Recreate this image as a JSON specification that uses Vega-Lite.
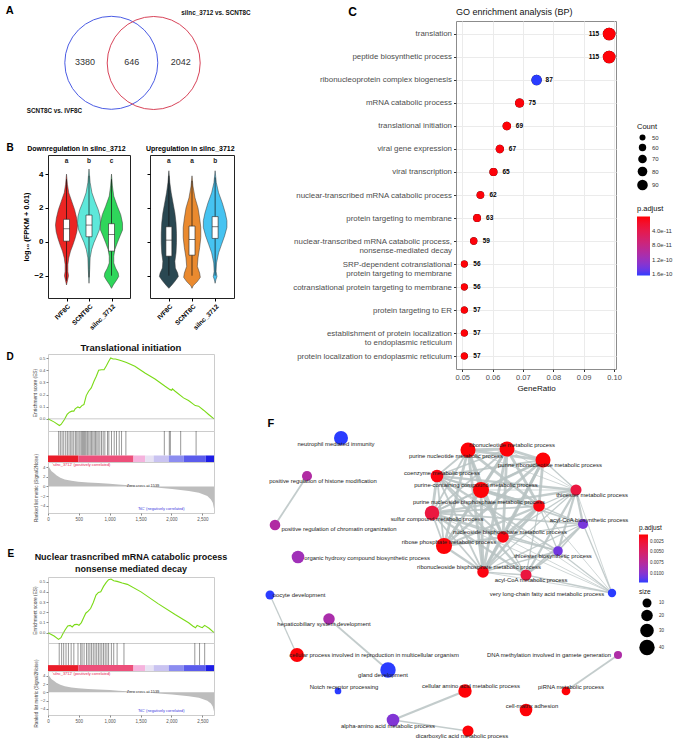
{
  "$schema": "https://vega.github.io/schema/vega-lite/v6.json",
  "background": "white",
  "padding": {"left": 5, "top": 4, "right": 0, "bottom": 0},
  "config": {
    "font": "Liberation Sans",
    "view": {"stroke": null},
    "title": {"font": "Liberation Sans", "color": "#000"},
    "axis": {"labelFont": "Liberation Sans", "titleFont": "Liberation Sans", "labelOverlap": false},
    "legend": {"labelFont": "Liberation Sans", "titleFont": "Liberation Sans", "layout": {"right": {"anchor": "middle", "direction": "vertical", "margin": 6}}},
    "text": {"font": "Liberation Sans"}
  },
  "datasets": {
    "venn": [
      {"set": "SCNT8C vs. IVF8C", "cx": 111.3, "cy": 63.8, "lx": 54.5, "ly": 112},
      {"set": "silnc_3712 vs. SCNT8C", "cx": 153.7, "cy": 64, "lx": 216, "ly": 13.5}
    ],
    "vennCounts": [
      {"n": "3380", "x": 85, "y": 63.3},
      {"n": "646", "x": 131.7, "y": 62.7},
      {"n": "2042", "x": 180.7, "y": 63.3}
    ],
    "vioDown": [
      {"g": "IVF8C", "v": -2.55, "lo": 1, "hi": 1},
      {"g": "IVF8C", "v": -2.25, "lo": 0.95, "hi": 1.05},
      {"g": "IVF8C", "v": -2.0, "lo": 0.91, "hi": 1.09},
      {"g": "IVF8C", "v": -1.75, "lo": 0.94, "hi": 1.06},
      {"g": "IVF8C", "v": -1.35, "lo": 0.94, "hi": 1.06},
      {"g": "IVF8C", "v": -0.95, "lo": 0.9, "hi": 1.1},
      {"g": "IVF8C", "v": -0.55, "lo": 0.82, "hi": 1.18},
      {"g": "IVF8C", "v": -0.2, "lo": 0.72, "hi": 1.28},
      {"g": "IVF8C", "v": 0.2, "lo": 0.62, "hi": 1.38},
      {"g": "IVF8C", "v": 0.6, "lo": 0.54, "hi": 1.46},
      {"g": "IVF8C", "v": 1.0, "lo": 0.51, "hi": 1.49},
      {"g": "IVF8C", "v": 1.4, "lo": 0.55, "hi": 1.45},
      {"g": "IVF8C", "v": 1.9, "lo": 0.64, "hi": 1.36},
      {"g": "IVF8C", "v": 2.4, "lo": 0.77, "hi": 1.23},
      {"g": "IVF8C", "v": 2.9, "lo": 0.9, "hi": 1.1},
      {"g": "IVF8C", "v": 3.4, "lo": 0.96, "hi": 1.04},
      {"g": "IVF8C", "v": 4.0, "lo": 1, "hi": 1},
      {"g": "SCNT8C", "v": -2.45, "lo": 2, "hi": 2},
      {"g": "SCNT8C", "v": -1.65, "lo": 1.97, "hi": 2.03},
      {"g": "SCNT8C", "v": -0.95, "lo": 1.95, "hi": 2.05},
      {"g": "SCNT8C", "v": -0.45, "lo": 1.88, "hi": 2.12},
      {"g": "SCNT8C", "v": -0.05, "lo": 1.78, "hi": 2.22},
      {"g": "SCNT8C", "v": 0.35, "lo": 1.65, "hi": 2.35},
      {"g": "SCNT8C", "v": 0.7, "lo": 1.54, "hi": 2.46},
      {"g": "SCNT8C", "v": 1.1, "lo": 1.49, "hi": 2.51},
      {"g": "SCNT8C", "v": 1.5, "lo": 1.51, "hi": 2.49},
      {"g": "SCNT8C", "v": 1.9, "lo": 1.59, "hi": 2.41},
      {"g": "SCNT8C", "v": 2.4, "lo": 1.74, "hi": 2.26},
      {"g": "SCNT8C", "v": 2.9, "lo": 1.87, "hi": 2.13},
      {"g": "SCNT8C", "v": 3.5, "lo": 1.95, "hi": 2.05},
      {"g": "SCNT8C", "v": 4.3, "lo": 2, "hi": 2},
      {"g": "silnc_3712", "v": -2.75, "lo": 3, "hi": 3},
      {"g": "silnc_3712", "v": -2.55, "lo": 2.92, "hi": 3.08},
      {"g": "silnc_3712", "v": -2.25, "lo": 2.77, "hi": 3.23},
      {"g": "silnc_3712", "v": -2.05, "lo": 2.68, "hi": 3.32},
      {"g": "silnc_3712", "v": -1.85, "lo": 2.7, "hi": 3.3},
      {"g": "silnc_3712", "v": -1.55, "lo": 2.82, "hi": 3.18},
      {"g": "silnc_3712", "v": -1.25, "lo": 2.9, "hi": 3.1},
      {"g": "silnc_3712", "v": -0.85, "lo": 2.9, "hi": 3.1},
      {"g": "silnc_3712", "v": -0.45, "lo": 2.85, "hi": 3.15},
      {"g": "silnc_3712", "v": -0.05, "lo": 2.74, "hi": 3.26},
      {"g": "silnc_3712", "v": 0.35, "lo": 2.62, "hi": 3.38},
      {"g": "silnc_3712", "v": 0.7, "lo": 2.51, "hi": 3.49},
      {"g": "silnc_3712", "v": 1.1, "lo": 2.51, "hi": 3.49},
      {"g": "silnc_3712", "v": 1.6, "lo": 2.59, "hi": 3.41},
      {"g": "silnc_3712", "v": 2.1, "lo": 2.74, "hi": 3.26},
      {"g": "silnc_3712", "v": 2.7, "lo": 2.9, "hi": 3.1},
      {"g": "silnc_3712", "v": 3.3, "lo": 2.96, "hi": 3.04},
      {"g": "silnc_3712", "v": 4.0, "lo": 3, "hi": 3}
    ],
    "vioUp": [
      {"g": "IVF8C", "v": -2.75, "lo": 1, "hi": 1},
      {"g": "IVF8C", "v": -2.55, "lo": 0.87, "hi": 1.13},
      {"g": "IVF8C", "v": -2.3, "lo": 0.72, "hi": 1.28},
      {"g": "IVF8C", "v": -2.05, "lo": 0.59, "hi": 1.41},
      {"g": "IVF8C", "v": -1.85, "lo": 0.62, "hi": 1.38},
      {"g": "IVF8C", "v": -1.55, "lo": 0.72, "hi": 1.28},
      {"g": "IVF8C", "v": -1.15, "lo": 0.74, "hi": 1.26},
      {"g": "IVF8C", "v": -0.65, "lo": 0.69, "hi": 1.31},
      {"g": "IVF8C", "v": -0.05, "lo": 0.67, "hi": 1.33},
      {"g": "IVF8C", "v": 0.5, "lo": 0.67, "hi": 1.33},
      {"g": "IVF8C", "v": 1.1, "lo": 0.69, "hi": 1.31},
      {"g": "IVF8C", "v": 1.7, "lo": 0.74, "hi": 1.26},
      {"g": "IVF8C", "v": 2.3, "lo": 0.82, "hi": 1.18},
      {"g": "IVF8C", "v": 2.9, "lo": 0.9, "hi": 1.1},
      {"g": "IVF8C", "v": 3.5, "lo": 0.96, "hi": 1.04},
      {"g": "IVF8C", "v": 4.2, "lo": 1, "hi": 1},
      {"g": "SCNT8C", "v": -2.75, "lo": 2, "hi": 2},
      {"g": "SCNT8C", "v": -2.6, "lo": 1.95, "hi": 2.05},
      {"g": "SCNT8C", "v": -2.35, "lo": 1.77, "hi": 2.23},
      {"g": "SCNT8C", "v": -2.1, "lo": 1.64, "hi": 2.36},
      {"g": "SCNT8C", "v": -1.85, "lo": 1.67, "hi": 2.33},
      {"g": "SCNT8C", "v": -1.45, "lo": 1.77, "hi": 2.23},
      {"g": "SCNT8C", "v": -0.95, "lo": 1.74, "hi": 2.26},
      {"g": "SCNT8C", "v": -0.35, "lo": 1.67, "hi": 2.33},
      {"g": "SCNT8C", "v": 0.25, "lo": 1.62, "hi": 2.38},
      {"g": "SCNT8C", "v": 0.85, "lo": 1.62, "hi": 2.38},
      {"g": "SCNT8C", "v": 1.4, "lo": 1.67, "hi": 2.33},
      {"g": "SCNT8C", "v": 2.0, "lo": 1.74, "hi": 2.26},
      {"g": "SCNT8C", "v": 2.6, "lo": 1.87, "hi": 2.13},
      {"g": "SCNT8C", "v": 3.3, "lo": 1.96, "hi": 2.04},
      {"g": "SCNT8C", "v": 3.9, "lo": 2, "hi": 2},
      {"g": "silnc_3712", "v": -2.45, "lo": 3, "hi": 3},
      {"g": "silnc_3712", "v": -2.25, "lo": 2.97, "hi": 3.03},
      {"g": "silnc_3712", "v": -2.05, "lo": 2.92, "hi": 3.08},
      {"g": "silnc_3712", "v": -1.75, "lo": 2.96, "hi": 3.04},
      {"g": "silnc_3712", "v": -1.25, "lo": 2.94, "hi": 3.06},
      {"g": "silnc_3712", "v": -0.65, "lo": 2.85, "hi": 3.15},
      {"g": "silnc_3712", "v": -0.15, "lo": 2.72, "hi": 3.28},
      {"g": "silnc_3712", "v": 0.35, "lo": 2.59, "hi": 3.41},
      {"g": "silnc_3712", "v": 0.85, "lo": 2.49, "hi": 3.51},
      {"g": "silnc_3712", "v": 1.25, "lo": 2.49, "hi": 3.51},
      {"g": "silnc_3712", "v": 1.7, "lo": 2.56, "hi": 3.44},
      {"g": "silnc_3712", "v": 2.3, "lo": 2.69, "hi": 3.31},
      {"g": "silnc_3712", "v": 2.9, "lo": 2.85, "hi": 3.15},
      {"g": "silnc_3712", "v": 3.5, "lo": 2.95, "hi": 3.05},
      {"g": "silnc_3712", "v": 4.2, "lo": 3, "hi": 3}
    ],
    "boxDown": [
      {"g": "IVF8C", "pos": 1, "q1": 0.04, "med": 0.77, "q3": 1.33, "wlo": -2.3, "whi": 3.7, "sig": "a"},
      {"g": "SCNT8C", "pos": 2, "q1": 0.3, "med": 0.99, "q3": 1.58, "wlo": -2.1, "whi": 3.9, "sig": "b"},
      {"g": "silnc_3712", "pos": 3, "q1": -0.55, "med": 0.44, "q3": 1.07, "wlo": -2.0, "whi": 3.7, "sig": "c"}
    ],
    "boxUp": [
      {"g": "IVF8C", "pos": 1, "q1": -0.85, "med": 0.1, "q3": 0.89, "wlo": -2.0, "whi": 3.9, "sig": "a"},
      {"g": "SCNT8C", "pos": 2, "q1": -0.79, "med": 0.14, "q3": 0.93, "wlo": -2.0, "whi": 3.6, "sig": "a"},
      {"g": "silnc_3712", "pos": 3, "q1": 0.2, "med": 0.89, "q3": 1.49, "wlo": -2.0, "whi": 3.8, "sig": "b"}
    ],
    "go": [
      {"term": "translation", "ratio": 0.0984, "Count": 115, "padj": 2e-12},
      {"term": "peptide biosynthetic process", "ratio": 0.0984, "Count": 115, "padj": 2e-12},
      {"term": "ribonucleoprotein complex biogenesis", "ratio": 0.0745, "Count": 87, "padj": 1.63e-10},
      {"term": "mRNA catabolic process", "ratio": 0.0689, "Count": 75, "padj": 3e-12},
      {"term": "translational initiation", "ratio": 0.0647, "Count": 69, "padj": 2e-12},
      {"term": "viral gene expression", "ratio": 0.0624, "Count": 67, "padj": 3e-12},
      {"term": "viral transcription", "ratio": 0.0603, "Count": 65, "padj": 3e-12},
      {"term": "nuclear-transcribed mRNA catabolic process", "ratio": 0.056, "Count": 62, "padj": 3e-12},
      {"term": "protein targeting to membrane", "ratio": 0.0549, "Count": 63, "padj": 3e-12},
      {"term": "nuclear-transcribed mRNA catabolic process,|nonsense-mediated decay", "ratio": 0.0538, "Count": 59, "padj": 3e-12},
      {"term": "SRP-dependent cotranslational|protein targeting to membrane", "ratio": 0.0507, "Count": 56, "padj": 2e-12},
      {"term": "cotranslational protein targeting to membrane", "ratio": 0.0507, "Count": 56, "padj": 2e-12},
      {"term": "protein targeting to ER", "ratio": 0.0507, "Count": 57, "padj": 2e-12},
      {"term": "establishment of protein localization|to endoplasmic reticulum", "ratio": 0.0507, "Count": 57, "padj": 2e-12},
      {"term": "protein localization to endoplasmic reticulum", "ratio": 0.0507, "Count": 57, "padj": 2e-12}
    ],
    "esD": [
      {"rank": 0, "es": 0}, {"rank": 103, "es": -0.027}, {"rank": 185, "es": -0.055}, {"rank": 212, "es": -0.046},
      {"rank": 266, "es": -0.005}, {"rank": 310, "es": 0.036}, {"rank": 348, "es": 0.055}, {"rank": 386, "es": 0.063},
      {"rank": 418, "es": 0.063}, {"rank": 440, "es": 0.082}, {"rank": 484, "es": 0.098}, {"rank": 516, "es": 0.09},
      {"rank": 549, "es": 0.109}, {"rank": 582, "es": 0.117}, {"rank": 620, "es": 0.191}, {"rank": 658, "es": 0.227},
      {"rank": 701, "es": 0.254}, {"rank": 745, "es": 0.309}, {"rank": 783, "es": 0.35}, {"rank": 821, "es": 0.399},
      {"rank": 864, "es": 0.404}, {"rank": 908, "es": 0.404}, {"rank": 946, "es": 0.437}, {"rank": 984, "es": 0.473},
      {"rank": 1016, "es": 0.5}, {"rank": 1054, "es": 0.492}, {"rank": 1092, "es": 0.492}, {"rank": 1136, "es": 0.486},
      {"rank": 1190, "es": 0.478}, {"rank": 1272, "es": 0.464}, {"rank": 1408, "es": 0.432}, {"rank": 1571, "es": 0.377},
      {"rank": 1734, "es": 0.328}, {"rank": 1897, "es": 0.268}, {"rank": 1978, "es": 0.24}, {"rank": 2005, "es": 0.235},
      {"rank": 2016, "es": 0.246}, {"rank": 2060, "es": 0.227}, {"rank": 2196, "es": 0.172}, {"rank": 2277, "es": 0.15},
      {"rank": 2386, "es": 0.109}, {"rank": 2440, "es": 0.104}, {"rank": 2522, "es": 0.071}, {"rank": 2603, "es": 0.036},
      {"rank": 2690, "es": 0}
    ],
    "esE": [
      {"rank": 0, "es": 0}, {"rank": 99, "es": -0.033}, {"rank": 171, "es": -0.066}, {"rank": 210, "es": -0.049},
      {"rank": 237, "es": -0.016}, {"rank": 276, "es": 0.026}, {"rank": 320, "es": 0.066}, {"rank": 359, "es": 0.072},
      {"rank": 392, "es": 0.056}, {"rank": 430, "es": 0.079}, {"rank": 469, "es": 0.082}, {"rank": 502, "es": 0.072},
      {"rank": 541, "es": 0.099}, {"rank": 579, "es": 0.148}, {"rank": 612, "es": 0.191}, {"rank": 651, "es": 0.211},
      {"rank": 690, "es": 0.237}, {"rank": 734, "es": 0.296}, {"rank": 778, "es": 0.368}, {"rank": 817, "es": 0.395},
      {"rank": 855, "es": 0.401}, {"rank": 900, "es": 0.454}, {"rank": 944, "es": 0.493}, {"rank": 982, "es": 0.52},
      {"rank": 1021, "es": 0.526}, {"rank": 1065, "es": 0.51}, {"rank": 1120, "es": 0.503}, {"rank": 1203, "es": 0.487},
      {"rank": 1286, "es": 0.474}, {"rank": 1507, "es": 0.4}, {"rank": 1783, "es": 0.285}, {"rank": 2059, "es": 0.178},
      {"rank": 2279, "es": 0.098}, {"rank": 2345, "es": 0.066}, {"rank": 2390, "es": 0.049}, {"rank": 2417, "es": 0.072},
      {"rank": 2472, "es": 0.056}, {"rank": 2500, "es": 0.049}, {"rank": 2538, "es": 0.072}, {"rank": 2610, "es": 0.043},
      {"rank": 2690, "es": 0}
    ],
    "hitsD": [
      {"rank": 173}, {"rank": 200}, {"rank": 228}, {"rank": 255}, {"rank": 287}, {"rank": 314}, {"rank": 341}, {"rank": 368},
      {"rank": 390}, {"rank": 417}, {"rank": 444}, {"rank": 466}, {"rank": 488}, {"rank": 515}, {"rank": 536}, {"rank": 553},
      {"rank": 569}, {"rank": 585}, {"rank": 601}, {"rank": 618}, {"rank": 639}, {"rank": 661}, {"rank": 683}, {"rank": 704},
      {"rank": 726}, {"rank": 748}, {"rank": 769}, {"rank": 791}, {"rank": 813}, {"rank": 840}, {"rank": 867}, {"rank": 894},
      {"rank": 921}, {"rank": 964}, {"rank": 986}, {"rank": 1029}, {"rank": 1073}, {"rank": 1110}, {"rank": 1154}, {"rank": 1192},
      {"rank": 1262}, {"rank": 1885}, {"rank": 1966}, {"rank": 1983}, {"rank": 2150}, {"rank": 2400}
    ],
    "hitsE": [
      {"rank": 182}, {"rank": 221}, {"rank": 254}, {"rank": 292}, {"rank": 331}, {"rank": 375}, {"rank": 419}, {"rank": 486},
      {"rank": 530}, {"rank": 552}, {"rank": 585}, {"rank": 624}, {"rank": 651}, {"rank": 679}, {"rank": 706}, {"rank": 734},
      {"rank": 762}, {"rank": 789}, {"rank": 817}, {"rank": 844}, {"rank": 872}, {"rank": 900}, {"rank": 927}, {"rank": 955},
      {"rank": 982}, {"rank": 1027}, {"rank": 1065}, {"rank": 1120}, {"rank": 1231}, {"rank": 2379}, {"rank": 2456}, {"rank": 2539}
    ],
    "bar": [
      {"s": "s1", "x0": 0, "x1": 490}, {"s": "s2", "x0": 490, "x1": 1385}, {"s": "s3", "x0": 1385, "x1": 1575},
      {"s": "s4", "x0": 1575, "x1": 1712}, {"s": "s5", "x0": 1712, "x1": 1957}, {"s": "s6", "x0": 1957, "x1": 2201},
      {"s": "s7", "x0": 2201, "x1": 2554}, {"s": "s8", "x0": 2554, "x1": 2690}
    ],
    "metric": [
      {"rank": 0, "m": 4.3}, {"rank": 20, "m": 3.9}, {"rank": 54, "m": 3.2}, {"rank": 100, "m": 2.7}, {"rank": 136, "m": 2.3},
      {"rank": 200, "m": 1.8}, {"rank": 272, "m": 1.45}, {"rank": 380, "m": 1.15}, {"rank": 490, "m": 0.97}, {"rank": 650, "m": 0.82},
      {"rank": 815, "m": 0.69}, {"rank": 1000, "m": 0.55}, {"rank": 1141, "m": 0.41}, {"rank": 1359, "m": 0.2}, {"rank": 1539, "m": 0},
      {"rank": 1793, "m": -0.28}, {"rank": 2011, "m": -0.55}, {"rank": 2283, "m": -0.97}, {"rank": 2446, "m": -1.3},
      {"rank": 2582, "m": -2.0}, {"rank": 2640, "m": -2.7}, {"rank": 2670, "m": -3.4}, {"rank": 2690, "m": -4.6}
    ],
    "gseaText": [
      {"t": "Zero cross at 1539", "x": 1540, "y": 0.15, "k": "zero"},
      {"t": "'silnc_3712' (positively correlated)", "x": 540, "y": 4.5, "k": "pos"},
      {"t": "'NC' (negatively correlated)", "x": 1835, "y": -4.6, "k": "neg"}
    ],
    "nodes": [
      {"id": "n1", "label": "neutrophil mediated immunity", "x": 342, "y": 435, "lx": 337, "ly": 441, "p": 0.0121, "n": 32},
      {"id": "n2", "label": "positive regulation of histone modification", "x": 308, "y": 473, "lx": 324, "ly": 478, "p": 0.0078, "n": 14},
      {"id": "n3", "label": "positive regulation of chromatin organization", "x": 276, "y": 522, "lx": 340, "ly": 526, "p": 0.0078, "n": 16},
      {"id": "n4", "label": "organic hydroxy compound biosynthetic process", "x": 299, "y": 554, "lx": 368, "ly": 555, "p": 0.0088, "n": 25},
      {"id": "rn", "label": "ribonucleotide metabolic process", "x": 508, "y": 446, "lx": 513, "ly": 442, "p": 0.001, "n": 38},
      {"id": "pn", "label": "purine nucleotide metabolic process", "x": 469, "y": 447, "lx": 457, "ly": 453, "p": 0.001, "n": 38},
      {"id": "pr", "label": "purine ribonucleotide metabolic process", "x": 544, "y": 457, "lx": 551, "ly": 462, "p": 0.001, "n": 38},
      {"id": "co", "label": "coenzyme metabolic process", "x": 438, "y": 473, "lx": 443, "ly": 470, "p": 0.0012, "n": 25},
      {"id": "pc", "label": "purine-containing compound metabolic process", "x": 482, "y": 487, "lx": 477, "ly": 482, "p": 0.001, "n": 44},
      {"id": "tm", "label": "thioester metabolic process", "x": 577, "y": 487, "lx": 593, "ly": 492, "p": 0.003, "n": 18},
      {"id": "pb", "label": "purine nucleoside bisphosphate metabolic process", "x": 540, "y": 503, "lx": 480, "ly": 499, "p": 0.0012, "n": 20},
      {"id": "sc", "label": "sulfur compound metabolic process", "x": 433, "y": 510, "lx": 438, "ly": 516, "p": 0.003, "n": 35},
      {"id": "ab", "label": "acyl-CoA biosynthetic process", "x": 584, "y": 521, "lx": 590, "ly": 517, "p": 0.0105, "n": 14},
      {"id": "nb", "label": "nucleoside bisphosphate metabolic process", "x": 504, "y": 534, "lx": 511, "ly": 529, "p": 0.0012, "n": 20},
      {"id": "rp", "label": "ribose phosphate metabolic process", "x": 445, "y": 543, "lx": 450, "ly": 539, "p": 0.001, "n": 44},
      {"id": "tb", "label": "thioester biosynthetic process", "x": 559, "y": 548, "lx": 554, "ly": 553, "p": 0.0107, "n": 12},
      {"id": "rb", "label": "ribonucleoside bisphosphate metabolic process", "x": 484, "y": 569, "lx": 480, "ly": 564, "p": 0.0012, "n": 20},
      {"id": "am", "label": "acyl-CoA metabolic process", "x": 527, "y": 572, "lx": 532, "ly": 577, "p": 0.003, "n": 18},
      {"id": "vl", "label": "very long-chain fatty acid metabolic process", "x": 613, "y": 590, "lx": 548, "ly": 591, "p": 0.0121, "n": 8},
      {"id": "od", "label": "oocyte development", "x": 271, "y": 592, "lx": 300, "ly": 592, "p": 0.0121, "n": 10},
      {"id": "hs", "label": "hepaticobiliary system development", "x": 330, "y": 616, "lx": 325, "ly": 621, "p": 0.0082, "n": 20},
      {"id": "cp", "label": "cellular process involved in reproduction in multicellular organism", "x": 298, "y": 652, "lx": 375, "ly": 652, "p": 0.001, "n": 32},
      {"id": "gd", "label": "gland development", "x": 389, "y": 667, "lx": 384, "ly": 672, "p": 0.0121, "n": 40},
      {"id": "dm", "label": "DNA methylation involved in gamete generation", "x": 619, "y": 652, "lx": 550, "ly": 652, "p": 0.008, "n": 7},
      {"id": "nr", "label": "Notch receptor processing", "x": 339, "y": 688, "lx": 345, "ly": 684, "p": 0.0121, "n": 3},
      {"id": "ca", "label": "cellular amino acid metabolic process", "x": 466, "y": 688, "lx": 472, "ly": 683, "p": 0.001, "n": 29},
      {"id": "pi", "label": "piRNA metabolic process", "x": 567, "y": 688, "lx": 572, "ly": 684, "p": 0.001, "n": 9},
      {"id": "cm", "label": "cell-matrix adhesion", "x": 527, "y": 707, "lx": 533, "ly": 703, "p": 0.001, "n": 25},
      {"id": "aa", "label": "alpha-amino acid metabolic process", "x": 394, "y": 717, "lx": 389, "ly": 723, "p": 0.0102, "n": 25},
      {"id": "dc", "label": "dicarboxylic acid metabolic process", "x": 469, "y": 728, "lx": 463, "ly": 733, "p": 0.001, "n": 18}
    ],
    "edges": [
      {"s": "rn", "t": "pn", "w": 3}, {"s": "rn", "t": "pr", "w": 3}, {"s": "rn", "t": "pc", "w": 3}, {"s": "rn", "t": "pb", "w": 3},
      {"s": "rn", "t": "nb", "w": 3}, {"s": "rn", "t": "rp", "w": 3}, {"s": "rn", "t": "rb", "w": 3},
      {"s": "pn", "t": "pr", "w": 3}, {"s": "pn", "t": "pc", "w": 3}, {"s": "pn", "t": "pb", "w": 3}, {"s": "pn", "t": "nb", "w": 3},
      {"s": "pn", "t": "rp", "w": 3}, {"s": "pn", "t": "rb", "w": 3},
      {"s": "pr", "t": "pc", "w": 3}, {"s": "pr", "t": "pb", "w": 3}, {"s": "pr", "t": "nb", "w": 3}, {"s": "pr", "t": "rp", "w": 3},
      {"s": "pr", "t": "rb", "w": 3},
      {"s": "pc", "t": "pb", "w": 3}, {"s": "pc", "t": "nb", "w": 3}, {"s": "pc", "t": "rp", "w": 3}, {"s": "pc", "t": "rb", "w": 3},
      {"s": "pb", "t": "nb", "w": 3}, {"s": "pb", "t": "rp", "w": 2.5}, {"s": "pb", "t": "rb", "w": 3},
      {"s": "nb", "t": "rp", "w": 2.5}, {"s": "nb", "t": "rb", "w": 3}, {"s": "rp", "t": "rb", "w": 2.5},
      {"s": "co", "t": "rn", "w": 2}, {"s": "co", "t": "pn", "w": 2}, {"s": "co", "t": "pr", "w": 2}, {"s": "co", "t": "pc", "w": 2},
      {"s": "co", "t": "pb", "w": 2}, {"s": "co", "t": "nb", "w": 2}, {"s": "co", "t": "rp", "w": 2}, {"s": "co", "t": "rb", "w": 2},
      {"s": "sc", "t": "rn", "w": 2}, {"s": "sc", "t": "pn", "w": 2}, {"s": "sc", "t": "pr", "w": 2}, {"s": "sc", "t": "pc", "w": 2},
      {"s": "sc", "t": "pb", "w": 2}, {"s": "sc", "t": "nb", "w": 2}, {"s": "sc", "t": "rp", "w": 2}, {"s": "sc", "t": "rb", "w": 2},
      {"s": "co", "t": "sc", "w": 3},
      {"s": "tm", "t": "co", "w": 2.5}, {"s": "tm", "t": "sc", "w": 2.5}, {"s": "tm", "t": "ab", "w": 2.5}, {"s": "tm", "t": "tb", "w": 2.5},
      {"s": "tm", "t": "am", "w": 2.5},
      {"s": "ab", "t": "co", "w": 2}, {"s": "ab", "t": "sc", "w": 2}, {"s": "ab", "t": "tb", "w": 2}, {"s": "ab", "t": "am", "w": 2},
      {"s": "tb", "t": "co", "w": 2}, {"s": "tb", "t": "sc", "w": 2}, {"s": "tb", "t": "am", "w": 2},
      {"s": "am", "t": "co", "w": 2.5}, {"s": "am", "t": "sc", "w": 2.5},
      {"s": "pb", "t": "tm", "w": 1.5}, {"s": "pb", "t": "ab", "w": 1.5}, {"s": "pb", "t": "tb", "w": 1.5}, {"s": "pb", "t": "am", "w": 1.5},
      {"s": "nb", "t": "tm", "w": 1.5}, {"s": "nb", "t": "ab", "w": 1.5}, {"s": "nb", "t": "tb", "w": 1.5}, {"s": "nb", "t": "am", "w": 1.5},
      {"s": "rb", "t": "tm", "w": 1.5}, {"s": "rb", "t": "ab", "w": 1.5}, {"s": "rb", "t": "tb", "w": 1.5}, {"s": "rb", "t": "am", "w": 1.5},
      {"s": "tm", "t": "rn", "w": 1}, {"s": "tm", "t": "pn", "w": 1}, {"s": "tm", "t": "pr", "w": 1.5}, {"s": "tm", "t": "pc", "w": 1},
      {"s": "vl", "t": "tm", "w": 1}, {"s": "vl", "t": "ab", "w": 1.5}, {"s": "vl", "t": "tb", "w": 1.5}, {"s": "vl", "t": "am", "w": 1.5},
      {"s": "vl", "t": "co", "w": 1}, {"s": "vl", "t": "sc", "w": 1}, {"s": "vl", "t": "pb", "w": 1}, {"s": "vl", "t": "nb", "w": 1},
      {"s": "vl", "t": "rb", "w": 1},
      {"s": "n2", "t": "n3", "w": 2}, {"s": "od", "t": "cp", "w": 1.5}, {"s": "hs", "t": "gd", "w": 2}, {"s": "dm", "t": "pi", "w": 2},
      {"s": "ca", "t": "aa", "w": 2.5}, {"s": "aa", "t": "dc", "w": 1.5}
    ]
  },
  "resolve": {"scale": {"color": "independent", "size": "independent", "strokeWidth": "independent"}},
  "hconcat": [
    {
      "resolve": {"scale": {"color": "independent", "size": "independent", "strokeWidth": "independent"}},
      "vconcat": [
        {
          "resolve": {"scale": {"color": "independent", "size": "independent"}},
          "vconcat": [
            {
              "width": 205, "height": 103,
              "view": {"stroke": null},
              "title": {"text": "A", "anchor": "start", "frame": "bounds", "fontSize": 11, "fontWeight": "bold", "dx": -21, "dy": 6, "offset": 0},
              "layer": [
                {
                  "data": {"name": "venn"},
                  "mark": {"type": "point", "shape": "circle", "filled": false, "size": 8650, "strokeWidth": 1, "opacity": 1},
                  "encoding": {
                    "x": {"field": "cx", "type": "quantitative", "scale": {"domain": [48, 253], "nice": false, "zero": false}, "axis": null},
                    "y": {"field": "cy", "type": "quantitative", "scale": {"domain": [22, 125], "nice": false, "zero": false, "reverse": true}, "axis": null},
                    "color": {"field": "set", "type": "nominal", "scale": {"domain": ["SCNT8C vs. IVF8C", "silnc_3712 vs. SCNT8C"], "range": ["#4b5ce4", "#d8455a"]}, "legend": null}
                  }
                },
                {
                  "data": {"name": "vennCounts"},
                  "mark": {"type": "text", "fontSize": 9, "color": "#333"},
                  "encoding": {
                    "x": {"field": "x", "type": "quantitative"},
                    "y": {"field": "y", "type": "quantitative"},
                    "text": {"field": "n"}
                  }
                },
                {
                  "data": {"name": "venn"},
                  "mark": {"type": "text", "fontSize": 6.3, "fontWeight": "bold", "color": "#111"},
                  "encoding": {
                    "x": {"field": "lx", "type": "quantitative"},
                    "y": {"field": "ly", "type": "quantitative"},
                    "text": {"field": "set"}
                  }
                }
              ]
            },
            {
              "resolve": {"scale": {"color": "independent"}},
              "hconcat": [
                {
                  "width": 82, "height": 143,
                  "view": {"stroke": "#222", "strokeWidth": 1},
                  "title": {"text": "Downregulation  in silnc_3712", "fontSize": 7, "fontWeight": "bold", "anchor": "middle", "frame": "bounds", "offset": 3},
                  "layer": [
                    {
                      "data": {"name": "vioDown"},
                      "mark": {"type": "area", "orient": "horizontal", "stroke": "#333", "strokeWidth": 0.5, "opacity": 1},
                      "encoding": {
                        "y": {"field": "v", "type": "quantitative", "scale": {"domain": [-3.32, 5.13], "nice": false, "zero": false},
                              "axis": {"values": [-2, 0, 2, 4], "tickCount": 10, "title": "log₁₀ (FPKM + 0.01)", "titleFontSize": 7.5, "titleFontWeight": "bold", "titleColor": "#000", "labelFontSize": 8, "labelFontWeight": "bold", "labelColor": "#000", "tickColor": "#000", "tickSize": 3, "domain": false, "grid": false, "labelPadding": 2, "titlePadding": 3}},
                        "x": {"field": "lo", "type": "quantitative", "scale": {"domain": [0.4, 3.6], "nice": false, "zero": false},
                              "axis": {"values": [1, 2, 3], "tickCount": 10, "labelExpr": "datum.value == 1 ? 'IVF8C' : datum.value == 2 ? 'SCNT8C' : 'silnc_3712'", "labelAngle": -45, "labelOverlap": false, "labelFontSize": 6.5, "labelFontWeight": "bold", "labelColor": "#000", "tickColor": "#000", "tickSize": 3, "domain": false, "grid": false, "title": null}},
                        "x2": {"field": "hi"},
                        "color": {"field": "g", "type": "nominal", "scale": {"domain": ["IVF8C", "SCNT8C", "silnc_3712"], "range": ["#ec2523", "#5ee8da", "#2fd65b"]}, "legend": null}
                      }
                    },
                    {
                      "data": {"name": "boxDown"},
                      "mark": {"type": "rule", "color": "#111", "strokeWidth": 0.7},
                      "encoding": {"x": {"field": "pos", "type": "quantitative"}, "y": {"field": "wlo", "type": "quantitative"}, "y2": {"field": "whi"}}
                    },
                    {
                      "data": {"name": "boxDown"},
                      "mark": {"type": "bar", "orient": "vertical", "size": 6, "fill": "white", "stroke": "#222", "strokeWidth": 0.6},
                      "encoding": {"x": {"field": "pos", "type": "quantitative"}, "y": {"field": "q1", "type": "quantitative"}, "y2": {"field": "q3"}}
                    },
                    {
                      "data": {"name": "boxDown"},
                      "mark": {"type": "tick", "orient": "horizontal", "size": 6, "thickness": 0.8, "color": "#111"},
                      "encoding": {"x": {"field": "pos", "type": "quantitative"}, "y": {"field": "med", "type": "quantitative"}}
                    },
                    {
                      "data": {"name": "boxDown"},
                      "mark": {"type": "text", "fontSize": 6.5, "fontWeight": "bold", "color": "#222"},
                      "encoding": {"x": {"field": "pos", "type": "quantitative"}, "y": {"datum": 4.75, "type": "quantitative"}, "text": {"field": "sig"}}
                    }
                  ]
                },
                {
                  "width": 84, "height": 143,
                  "view": {"stroke": "#222", "strokeWidth": 1},
                  "title": {"text": "Upregulation  in silnc_3712", "fontSize": 7, "fontWeight": "bold", "anchor": "middle", "frame": "bounds", "offset": 3},
                  "layer": [
                    {
                      "data": {"name": "vioUp"},
                      "mark": {"type": "area", "orient": "horizontal", "stroke": "#333", "strokeWidth": 0.5, "opacity": 1},
                      "encoding": {
                        "y": {"field": "v", "type": "quantitative", "scale": {"domain": [-3.32, 5.13], "nice": false, "zero": false},
                              "axis": {"values": [-2, 0, 2, 4], "tickCount": 10, "title": null, "labels": false, "tickColor": "#000", "tickSize": 3, "domain": false, "grid": false}},
                        "x": {"field": "lo", "type": "quantitative", "scale": {"domain": [0.4, 3.6], "nice": false, "zero": false},
                              "axis": {"values": [1, 2, 3], "tickCount": 10, "labelExpr": "datum.value == 1 ? 'IVF8C' : datum.value == 2 ? 'SCNT8C' : 'silnc_3712'", "labelAngle": -45, "labelOverlap": false, "labelFontSize": 6.5, "labelFontWeight": "bold", "labelColor": "#000", "tickColor": "#000", "tickSize": 3, "domain": false, "grid": false, "title": null}},
                        "x2": {"field": "hi"},
                        "color": {"field": "g", "type": "nominal", "scale": {"domain": ["IVF8C", "SCNT8C", "silnc_3712"], "range": ["#2a4852", "#ea8a2f", "#46c3f1"]}, "legend": null}
                      }
                    },
                    {
                      "data": {"name": "boxUp"},
                      "mark": {"type": "rule", "color": "#111", "strokeWidth": 0.7},
                      "encoding": {"x": {"field": "pos", "type": "quantitative"}, "y": {"field": "wlo", "type": "quantitative"}, "y2": {"field": "whi"}}
                    },
                    {
                      "data": {"name": "boxUp"},
                      "mark": {"type": "bar", "orient": "vertical", "size": 6, "fill": "white", "stroke": "#222", "strokeWidth": 0.6},
                      "encoding": {"x": {"field": "pos", "type": "quantitative"}, "y": {"field": "q1", "type": "quantitative"}, "y2": {"field": "q3"}}
                    },
                    {
                      "data": {"name": "boxUp"},
                      "mark": {"type": "tick", "orient": "horizontal", "size": 6, "thickness": 0.8, "color": "#111"},
                      "encoding": {"x": {"field": "pos", "type": "quantitative"}, "y": {"field": "med", "type": "quantitative"}}
                    },
                    {
                      "data": {"name": "boxUp"},
                      "mark": {"type": "text", "fontSize": 6.5, "fontWeight": "bold", "color": "#222"},
                      "encoding": {"x": {"field": "pos", "type": "quantitative"}, "y": {"datum": 4.75, "type": "quantitative"}, "text": {"field": "sig"}}
                    }
                  ]
                }
              ],
              "spacing": 13,
              "title": {"text": "B", "anchor": "start", "frame": "bounds", "fontSize": 10, "fontWeight": "bold", "dx": -16, "dy": 8, "offset": 0}
            }
          ],
          "spacing": 18
        },
        {
          "resolve": {"scale": {"color": "independent"}},
          "vconcat": [
            {
              "resolve": {"scale": {"color": "independent"}},
              "vconcat": [
                {
                  "width": 166, "height": 77,
                  "view": {"stroke": "#cccccc"},
                  "title": {"text": "Translational initiation", "fontSize": 9.5, "fontWeight": "bold", "anchor": "middle", "frame": "group", "offset": 2, "color": "#111"},
                  "layer": [
                    {
                      "data": {"name": "esD"},
                      "mark": {"type": "line", "color": "#7ada16", "strokeWidth": 1.1},
                      "encoding": {
                        "x": {"field": "rank", "type": "quantitative", "scale": {"domain": [0, 2690], "nice": false, "zero": false}, "axis": null},
                        "y": {"field": "es", "type": "quantitative", "scale": {"domain": [-0.1, 0.533], "nice": false, "zero": false},
                              "axis": {"values": [0, 0.1, 0.2, 0.3, 0.4, 0.5], "tickCount": 12, "labelExpr": "format(datum.value, '.1f')", "title": "Enrichment score (ES)", "titleFontSize": 4.8, "titleFontWeight": "normal", "titleColor": "#444", "labelFontSize": 4.3, "labelColor": "#555", "labelOverlap": false, "tickSize": 2, "tickColor": "#888", "domain": false, "grid": false, "labelPadding": 1, "titlePadding": 2}}
                      }
                    },
                    {
                      "data": {"values": [{}]},
                      "mark": {"type": "rule", "color": "#aaaaaa", "strokeWidth": 0.6},
                      "encoding": {"y": {"datum": 0, "type": "quantitative"}}
                    }
                  ]
                },
                {
                  "width": 166, "height": 31,
                  "view": {"stroke": "#cccccc"},
                  "layer": [
                    {
                      "data": {"name": "hitsD"},
                      "mark": {"type": "rule", "color": "#1a1a1a", "strokeWidth": 0.6, "opacity": 0.75},
                      "encoding": {
                        "x": {"field": "rank", "type": "quantitative", "scale": {"domain": [0, 2690], "nice": false, "zero": false}, "axis": null},
                        "y": {"datum": 0.21, "type": "quantitative", "scale": {"domain": [0, 1], "nice": false, "zero": false}, "axis": null},
                        "y2": {"datum": 1}
                      }
                    },
                    {
                      "data": {"name": "bar"},
                      "mark": {"type": "rect"},
                      "encoding": {
                        "x": {"field": "x0", "type": "quantitative"},
                        "x2": {"field": "x1"},
                        "y": {"datum": 0, "type": "quantitative"},
                        "y2": {"datum": 0.21},
                        "color": {"field": "s", "type": "nominal", "scale": {"domain": ["s1", "s2", "s3", "s4", "s5", "s6", "s7", "s8"], "range": ["#ea1d2a", "#ed4f7a", "#f5b3dd", "#e7e2f3", "#c9c3f1", "#8c8df0", "#5b5cec", "#1d1de6"]}, "legend": null}
                      }
                    }
                  ]
                },
                {
                  "width": 166, "height": 51,
                  "view": {"stroke": "#cccccc"},
                  "layer": [
                    {
                      "data": {"name": "metric"},
                      "mark": {"type": "area", "color": "#bdbdbd"},
                      "encoding": {
                        "x": {"field": "rank", "type": "quantitative", "scale": {"domain": [0, 2690], "nice": false, "zero": false},
                              "axis": {"values": [0, 500, 1000, 1500, 2000, 2500], "tickCount": 12, "labelExpr": "format(datum.value, ',')", "labelFontSize": 4.5, "labelColor": "#555", "labelOverlap": false, "labelFlush": false, "tickSize": 2, "tickColor": "#888", "domain": false, "grid": false, "title": null, "labelPadding": 1}},
                        "y": {"field": "m", "type": "quantitative", "scale": {"domain": [-5.5, 5.05], "nice": false, "zero": false},
                              "axis": {"values": [-4, -2, 0, 2, 4], "tickCount": 12, "labelExpr": "format(datum.value, 'd')", "title": "Ranked list metric (Signal2Noise)", "titleFontSize": 4.6, "titleFontWeight": "normal", "titleColor": "#444", "labelFontSize": 4.3, "labelColor": "#555", "labelOverlap": false, "tickSize": 2, "tickColor": "#888", "domain": false, "grid": false, "labelPadding": 1, "titlePadding": 2}},
                        "y2": {"datum": 0}
                      }
                    },
                    {
                      "data": {"name": "gseaText"},
                      "mark": {"type": "text", "fontSize": 3.9},
                      "encoding": {
                        "x": {"field": "x", "type": "quantitative"},
                        "y": {"field": "y", "type": "quantitative"},
                        "text": {"field": "t"},
                        "color": {"field": "k", "type": "nominal", "scale": {"domain": ["pos", "neg", "zero"], "range": ["#e8204a", "#3a3ae0", "#333333"]}, "legend": null}
                      }
                    }
                  ]
                }
              ],
              "spacing": 0,
              "bounds": "flush",
              "title": {"text": "D", "anchor": "start", "frame": "bounds", "fontSize": 10, "fontWeight": "bold", "dx": -25, "dy": 20, "offset": 0}
            },
            {
              "resolve": {"scale": {"color": "independent"}},
              "vconcat": [
                {
                  "width": 166, "height": 66,
                  "view": {"stroke": "#cccccc"},
                  "title": {"text": ["Nuclear trasncribed mRNA catabolic process", "nonsense mediated decay"], "fontSize": 9, "fontWeight": "bold", "anchor": "middle", "frame": "group", "offset": 3, "lineHeight": 12, "color": "#111"},
                  "layer": [
                    {
                      "data": {"name": "esE"},
                      "mark": {"type": "line", "color": "#7ada16", "strokeWidth": 1.1},
                      "encoding": {
                        "x": {"field": "rank", "type": "quantitative", "scale": {"domain": [0, 2690], "nice": false, "zero": false}, "axis": null},
                        "y": {"field": "es", "type": "quantitative", "scale": {"domain": [-0.101, 0.546], "nice": false, "zero": false},
                              "axis": {"values": [0, 0.1, 0.2, 0.3, 0.4, 0.5], "tickCount": 12, "labelExpr": "format(datum.value, '.1f')", "title": "Enrichment score (ES)", "titleFontSize": 4.8, "titleFontWeight": "normal", "titleColor": "#444", "labelFontSize": 4.3, "labelColor": "#555", "labelOverlap": false, "tickSize": 2, "tickColor": "#888", "domain": false, "grid": false, "labelPadding": 1, "titlePadding": 2}}
                      }
                    },
                    {
                      "data": {"values": [{}]},
                      "mark": {"type": "rule", "color": "#aaaaaa", "strokeWidth": 0.6},
                      "encoding": {"y": {"datum": 0, "type": "quantitative"}}
                    }
                  ]
                },
                {
                  "width": 166, "height": 28,
                  "view": {"stroke": "#cccccc"},
                  "layer": [
                    {
                      "data": {"name": "hitsE"},
                      "mark": {"type": "rule", "color": "#1a1a1a", "strokeWidth": 0.6, "opacity": 0.75},
                      "encoding": {
                        "x": {"field": "rank", "type": "quantitative", "scale": {"domain": [0, 2690], "nice": false, "zero": false}, "axis": null},
                        "y": {"datum": 0.21, "type": "quantitative", "scale": {"domain": [0, 1], "nice": false, "zero": false}, "axis": null},
                        "y2": {"datum": 1}
                      }
                    },
                    {
                      "data": {"name": "bar"},
                      "mark": {"type": "rect"},
                      "encoding": {
                        "x": {"field": "x0", "type": "quantitative"},
                        "x2": {"field": "x1"},
                        "y": {"datum": 0, "type": "quantitative"},
                        "y2": {"datum": 0.21},
                        "color": {"field": "s", "type": "nominal", "scale": {"domain": ["s1", "s2", "s3", "s4", "s5", "s6", "s7", "s8"], "range": ["#ea1d2a", "#ed4f7a", "#f5b3dd", "#e7e2f3", "#c9c3f1", "#8c8df0", "#5b5cec", "#1d1de6"]}, "legend": null}
                      }
                    }
                  ]
                },
                {
                  "width": 166, "height": 44,
                  "view": {"stroke": "#cccccc"},
                  "layer": [
                    {
                      "data": {"name": "metric"},
                      "mark": {"type": "area", "color": "#bdbdbd"},
                      "encoding": {
                        "x": {"field": "rank", "type": "quantitative", "scale": {"domain": [0, 2690], "nice": false, "zero": false},
                              "axis": {"values": [0, 500, 1000, 1500, 2000, 2500], "tickCount": 12, "labelExpr": "format(datum.value, ',')", "labelFontSize": 4.5, "labelColor": "#555", "labelOverlap": false, "labelFlush": false, "tickSize": 2, "tickColor": "#888", "domain": false, "grid": false, "title": null, "labelPadding": 1}},
                        "y": {"field": "m", "type": "quantitative", "scale": {"domain": [-5.45, 5.13], "nice": false, "zero": false},
                              "axis": {"values": [-4, -2, 0, 2, 4], "tickCount": 12, "labelExpr": "format(datum.value, 'd')", "title": "Ranked list metric (Signal2Noise)", "titleFontSize": 4.6, "titleFontWeight": "normal", "titleColor": "#444", "labelFontSize": 4.3, "labelColor": "#555", "labelOverlap": false, "tickSize": 2, "tickColor": "#888", "domain": false, "grid": false, "labelPadding": 1, "titlePadding": 2}},
                        "y2": {"datum": 0}
                      }
                    },
                    {
                      "data": {"name": "gseaText"},
                      "mark": {"type": "text", "fontSize": 3.9},
                      "encoding": {
                        "x": {"field": "x", "type": "quantitative"},
                        "y": {"field": "y", "type": "quantitative"},
                        "text": {"field": "t"},
                        "color": {"field": "k", "type": "nominal", "scale": {"domain": ["pos", "neg", "zero"], "range": ["#e8204a", "#3a3ae0", "#333333"]}, "legend": null}
                      }
                    }
                  ]
                }
              ],
              "spacing": 0,
              "bounds": "flush",
              "title": {"text": "E", "anchor": "start", "frame": "bounds", "fontSize": 10, "fontWeight": "bold", "dx": -24, "dy": 9, "offset": 2}
            }
          ],
          "spacing": 27
        }
      ],
      "spacing": 10
    },
    {
      "resolve": {"scale": {"color": "independent", "size": "independent", "strokeWidth": "independent"}},
      "vconcat": [
        {
          "vconcat": [
            {
              "width": 160, "height": 348,
              "view": {"stroke": "#8c8c8c"},
              "title": {"text": "GO enrichment analysis (BP)", "anchor": "start", "frame": "group", "fontSize": 9, "fontWeight": "normal", "color": "#111", "offset": 4},
              "data": {"name": "go"},
              "layer": [
                {
                  "mark": {"type": "point", "filled": true, "opacity": 1, "color": "#000", "strokeWidth": 0},
                  "encoding": {
                    "x": {"field": "ratio", "type": "quantitative", "scale": {"domain": [0.04796, 0.10066], "nice": false, "zero": false},
                          "axis": {"values": [0.05, 0.06, 0.07, 0.08, 0.09, 0.1], "tickCount": 12, "labelExpr": "format(datum.value, '.2f')", "title": "GeneRatio", "titleFontSize": 8, "titleFontWeight": "normal", "titleColor": "#111", "labelFontSize": 7.5, "labelColor": "#4d4d4d", "labelOverlap": false, "labelFlush": false, "tickColor": "#333", "tickSize": 2.5, "domain": false, "grid": true, "gridColor": "#ebebeb", "titlePadding": 3, "labelPadding": 2}},
                    "y": {"field": "term", "type": "nominal", "sort": null, "scale": {"type": "point", "padding": 0.565},
                          "axis": {"title": null, "labelExpr": "split(datum.value, '|')", "labelFontSize": 7.9, "labelColor": "#4d4d4d", "labelLineHeight": 9, "labelOverlap": false, "tickColor": "#333", "tickSize": 2.5, "domain": false, "grid": true, "gridColor": "#ebebeb", "labelPadding": 2, "labelLimit": 400}},
                    "size": {"field": "Count", "type": "quantitative", "scale": {"domain": [40, 120], "range": [17, 169], "zero": false},
                             "legend": {"title": "Count", "values": [50, 60, 70, 80, 90], "titleFontSize": 7.5, "titleFontWeight": "normal", "titleColor": "#111", "labelFontSize": 6, "labelColor": "#333", "symbolFillColor": "#000", "symbolStrokeWidth": 0, "offset": 11, "padding": 4, "rowPadding": 3, "titlePadding": 4}}
                  }
                },
                {
                  "mark": {"type": "point", "filled": true, "opacity": 1, "strokeWidth": 0},
                  "encoding": {
                    "x": {"field": "ratio", "type": "quantitative"},
                    "y": {"field": "term", "type": "nominal", "sort": null},
                    "size": {"field": "Count", "type": "quantitative"},
                    "color": {"field": "padj", "type": "quantitative", "scale": {"domain": [1.63e-10, 0], "range": ["#2a3cff", "#ff0000"], "interpolate": "lab"},
                              "legend": {"title": "p.adjust", "values": [4e-11, 8e-11, 1.2e-10, 1.6e-10], "format": ".1e", "gradientLength": 59, "gradientThickness": 13, "titleFontSize": 7.5, "titleFontWeight": "normal", "titleColor": "#111", "labelFontSize": 6, "labelColor": "#333", "labelOverlap": false, "offset": 11, "padding": 4, "titlePadding": 4}}
                  }
                },
                {
                  "transform": [{"filter": "datum.Count < 100"}],
                  "mark": {"type": "text", "align": "left", "dx": 9, "fontSize": 6.5, "fontWeight": "bold", "color": "#000"},
                  "encoding": {
                    "x": {"field": "ratio", "type": "quantitative"},
                    "y": {"field": "term", "type": "nominal", "sort": null},
                    "text": {"field": "Count", "type": "quantitative"}
                  }
                },
                {
                  "transform": [{"filter": "datum.Count >= 100"}],
                  "mark": {"type": "text", "align": "right", "dx": -10, "fontSize": 6.5, "fontWeight": "bold", "color": "#000"},
                  "encoding": {
                    "x": {"field": "ratio", "type": "quantitative"},
                    "y": {"field": "term", "type": "nominal", "sort": null},
                    "text": {"field": "Count", "type": "quantitative"}
                  }
                }
              ]
            }
          ],
          "title": {"text": "C", "anchor": "start", "frame": "bounds", "fontSize": 12, "fontWeight": "bold", "dx": 56, "dy": 11, "offset": 0}
        },
        {
          "width": 180, "height": 315,
          "view": {"stroke": null},
          "title": {"text": "F", "anchor": "start", "frame": "bounds", "fontSize": 11, "fontWeight": "bold", "dx": 2, "offset": 2},
          "layer": [
            {
              "data": {"name": "edges"},
              "transform": [
                {"lookup": "s", "from": {"data": {"name": "nodes"}, "key": "id", "fields": ["x", "y"]}, "as": ["sx", "sy"]},
                {"lookup": "t", "from": {"data": {"name": "nodes"}, "key": "id", "fields": ["x", "y"]}, "as": ["tx", "ty"]}
              ],
              "mark": {"type": "rule", "color": "#b9c3c3", "opacity": 0.85},
              "encoding": {
                "x": {"field": "sx", "type": "quantitative", "scale": {"domain": [457, 637], "nice": false, "zero": false}, "axis": null},
                "y": {"field": "sy", "type": "quantitative", "scale": {"domain": [430, 745], "nice": false, "zero": false, "reverse": true}, "axis": null},
                "x2": {"field": "tx"},
                "y2": {"field": "ty"},
                "strokeWidth": {"field": "w", "type": "quantitative", "scale": {"domain": [1, 3], "range": [0.8, 2.8]}, "legend": null}
              }
            },
            {
              "data": {"name": "nodes"},
              "mark": {"type": "point", "filled": true, "opacity": 1, "strokeWidth": 0},
              "encoding": {
                "x": {"field": "x", "type": "quantitative"},
                "y": {"field": "y", "type": "quantitative"},
                "color": {"field": "p", "type": "quantitative", "scale": {"domain": [0.0121, 0.00086], "range": ["#2a3cff", "#ff0000"], "interpolate": "lab"},
                          "legend": {"title": "p.adjust", "values": [0.0025, 0.005, 0.0075, 0.01], "format": ".4f", "gradientLength": 48, "gradientThickness": 9, "titleFontSize": 6.5, "titleFontWeight": "normal", "titleColor": "#111", "labelFontSize": 4.5, "labelColor": "#333", "labelOverlap": false, "offset": 3, "titlePadding": 3}},
                "size": {"field": "n", "type": "quantitative", "scale": {"domain": [5, 45], "range": [55, 263], "zero": false},
                         "legend": {"title": "size", "values": [10, 20, 30, 40], "titleFontSize": 6.5, "titleFontWeight": "normal", "titleColor": "#111", "labelFontSize": 4.5, "labelColor": "#333", "symbolFillColor": "#000", "symbolStrokeWidth": 0, "offset": 3, "rowPadding": 2, "titlePadding": 3}}
              }
            },
            {
              "data": {"name": "nodes"},
              "mark": {"type": "text", "fontSize": 5.9, "color": "#1a1a1a"},
              "encoding": {
                "x": {"field": "lx", "type": "quantitative"},
                "y": {"field": "ly", "type": "quantitative"},
                "text": {"field": "label"}
              }
            }
          ]
        }
      ],
      "spacing": 25
    }
  ],
  "spacing": 12
}
